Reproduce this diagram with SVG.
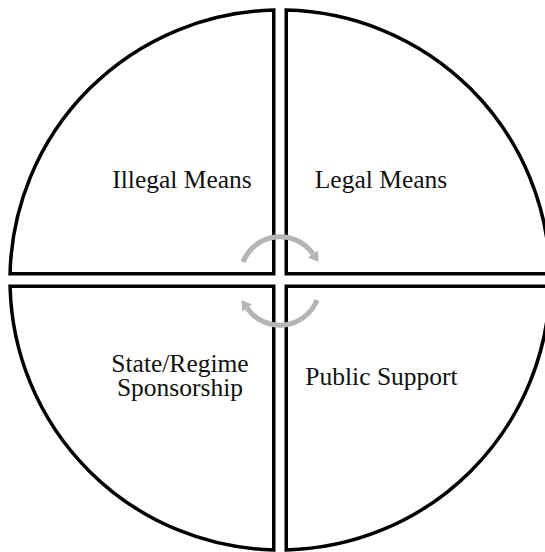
<svg xmlns="http://www.w3.org/2000/svg" width="545" height="552" viewBox="0 0 545 552">
  <style>
    .quad { fill: #ffffff; stroke: #000000; stroke-width: 3.5; stroke-linejoin: miter; }
    .label { font-family: "Liberation Serif", "Times New Roman", serif; font-size: 25.5px; fill: #111111; text-anchor: middle; }
    .cycle { fill: none; stroke: #b5b5b5; stroke-width: 5; }
    .head { fill: #b5b5b5; }
  </style>
  <rect width="545" height="552" fill="#ffffff"/>

  <!-- four quadrants of a circle (centre 280,280, r 270), split by a narrow cross gap -->
  <g id="illegal-means">
    <path class="quad" d="M273.75 273.75 V10.07 A270 270 0 0 0 10.07 273.75 Z"/>
    <text class="label" x="182" y="188">Illegal Means</text>
  </g>
  <g id="legal-means">
    <path class="quad" d="M286.25 273.75 V10.07 A270 270 0 0 1 549.93 273.75 Z"/>
    <text class="label" x="381" y="188">Legal Means</text>
  </g>
  <g id="state-regime-sponsorship">
    <path class="quad" d="M273.75 286.25 V549.93 A270 270 0 0 1 10.07 286.25 Z"/>
    <text class="label" x="180" y="372">State/Regime</text>
    <text class="label" x="180" y="395.5">Sponsorship</text>
  </g>
  <g id="public-support">
    <path class="quad" d="M286.25 286.25 V549.93 A270 270 0 0 0 549.93 286.25 Z"/>
    <text class="label" x="381.5" y="385">Public Support</text>
  </g>

  <!-- circular arrows in the centre -->
  <g id="connectors">
    <path class="cycle" d="M243 262 A40 40 0 0 1 313 254"/>
    <polygon class="head" points="318.5,262 318,250.5 308,257.5"/>
    <path class="cycle" d="M317 300 A40 40 0 0 1 247 308"/>
    <polygon class="head" points="241.5,300 242,311.5 252,304.5"/>
  </g>
</svg>
